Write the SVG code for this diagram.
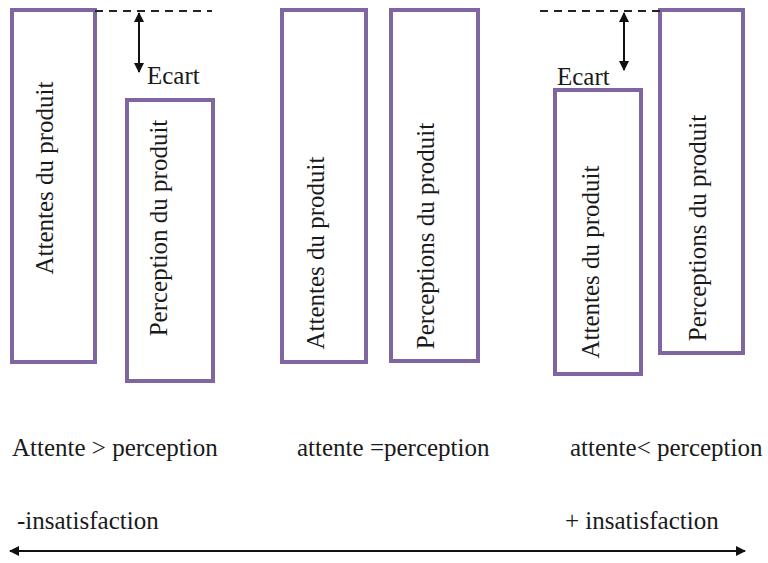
<svg xmlns="http://www.w3.org/2000/svg" width="768" height="563" viewBox="0 0 768 563">
  <style>
    .box { fill: #ffffff; stroke: #7f66a0; stroke-width: 4; }
    .lbl { font-family: "Liberation Serif", "Times New Roman", serif; font-size: 25px; fill: #1a1a1a; }
    .v { text-anchor: middle; }
    .dash { stroke: #222; stroke-width: 2; stroke-dasharray: 8 6; fill: none; }
    .arr { stroke: #111; stroke-width: 2; fill: none; marker-start: url(#head); marker-end: url(#head); }
  </style>
  <defs>
    <marker id="head" viewBox="0 0 10 10" refX="9" refY="5" markerWidth="5" markerHeight="5" orient="auto-start-reverse" markerUnits="strokeWidth">
      <path d="M0,0 L10,5 L0,10 Z" fill="#111"/>
    </marker>
  </defs>
  <rect width="768" height="563" fill="#ffffff"/>

  <!-- Case 1 : expectation above perception -->
  <g id="attentes-1">
    <rect class="box" x="12" y="10" width="83" height="352"/>
    <text class="lbl v" transform="translate(53,178) rotate(-90)">Attentes du produit</text>
  </g>
  <g id="perception-1">
    <rect class="box" x="127" y="100" width="86" height="281"/>
    <text class="lbl v" transform="translate(167,228) rotate(-90)">Perception du produit</text>
  </g>

  <!-- Case 2 : equal -->
  <g id="attentes-2">
    <rect class="box" x="282" y="10" width="84" height="352"/>
    <text class="lbl v" transform="translate(324,253) rotate(-90)">Attentes du produit</text>
  </g>
  <g id="perceptions-2">
    <rect class="box" x="391" y="10" width="87" height="351"/>
    <text class="lbl v" transform="translate(434,236) rotate(-90)">Perceptions du produit</text>
  </g>

  <!-- Case 3 : perception above expectation -->
  <g id="attentes-3">
    <rect class="box" x="555" y="90" width="86" height="284"/>
    <text class="lbl v" transform="translate(599,262) rotate(-90)">Attentes du produit</text>
  </g>
  <g id="perceptions-3">
    <rect class="box" x="660" y="10" width="83" height="343"/>
    <text class="lbl v" transform="translate(706,228) rotate(-90)">Perceptions du produit</text>
  </g>

  <!-- Gap markers -->
  <g id="connectors">
    <line class="dash" x1="95" y1="11" x2="212" y2="11"/>
    <line class="arr" x1="139" y1="13" x2="139" y2="72"/>
    <line class="dash" x1="540" y1="11" x2="660" y2="11"/>
    <line class="arr" x1="624" y1="13" x2="624" y2="70"/>
    <line class="arr" x1="10" y1="551" x2="745" y2="551"/>
  </g>

  <g id="ecart-1"><text class="lbl" x="147" y="84">Ecart</text></g>
  <g id="ecart-3"><text class="lbl" x="557" y="85">Ecart</text></g>

  <!-- Captions -->
  <g id="captions">
    <text class="lbl" x="12" y="456">Attente &gt; perception</text>
    <text class="lbl" x="297" y="456">attente =perception</text>
    <text class="lbl" x="570" y="456">attente&lt; perception</text>
    <text class="lbl" x="17" y="529">-insatisfaction</text>
    <text class="lbl" x="565" y="529">+ insatisfaction</text>
  </g>
</svg>
